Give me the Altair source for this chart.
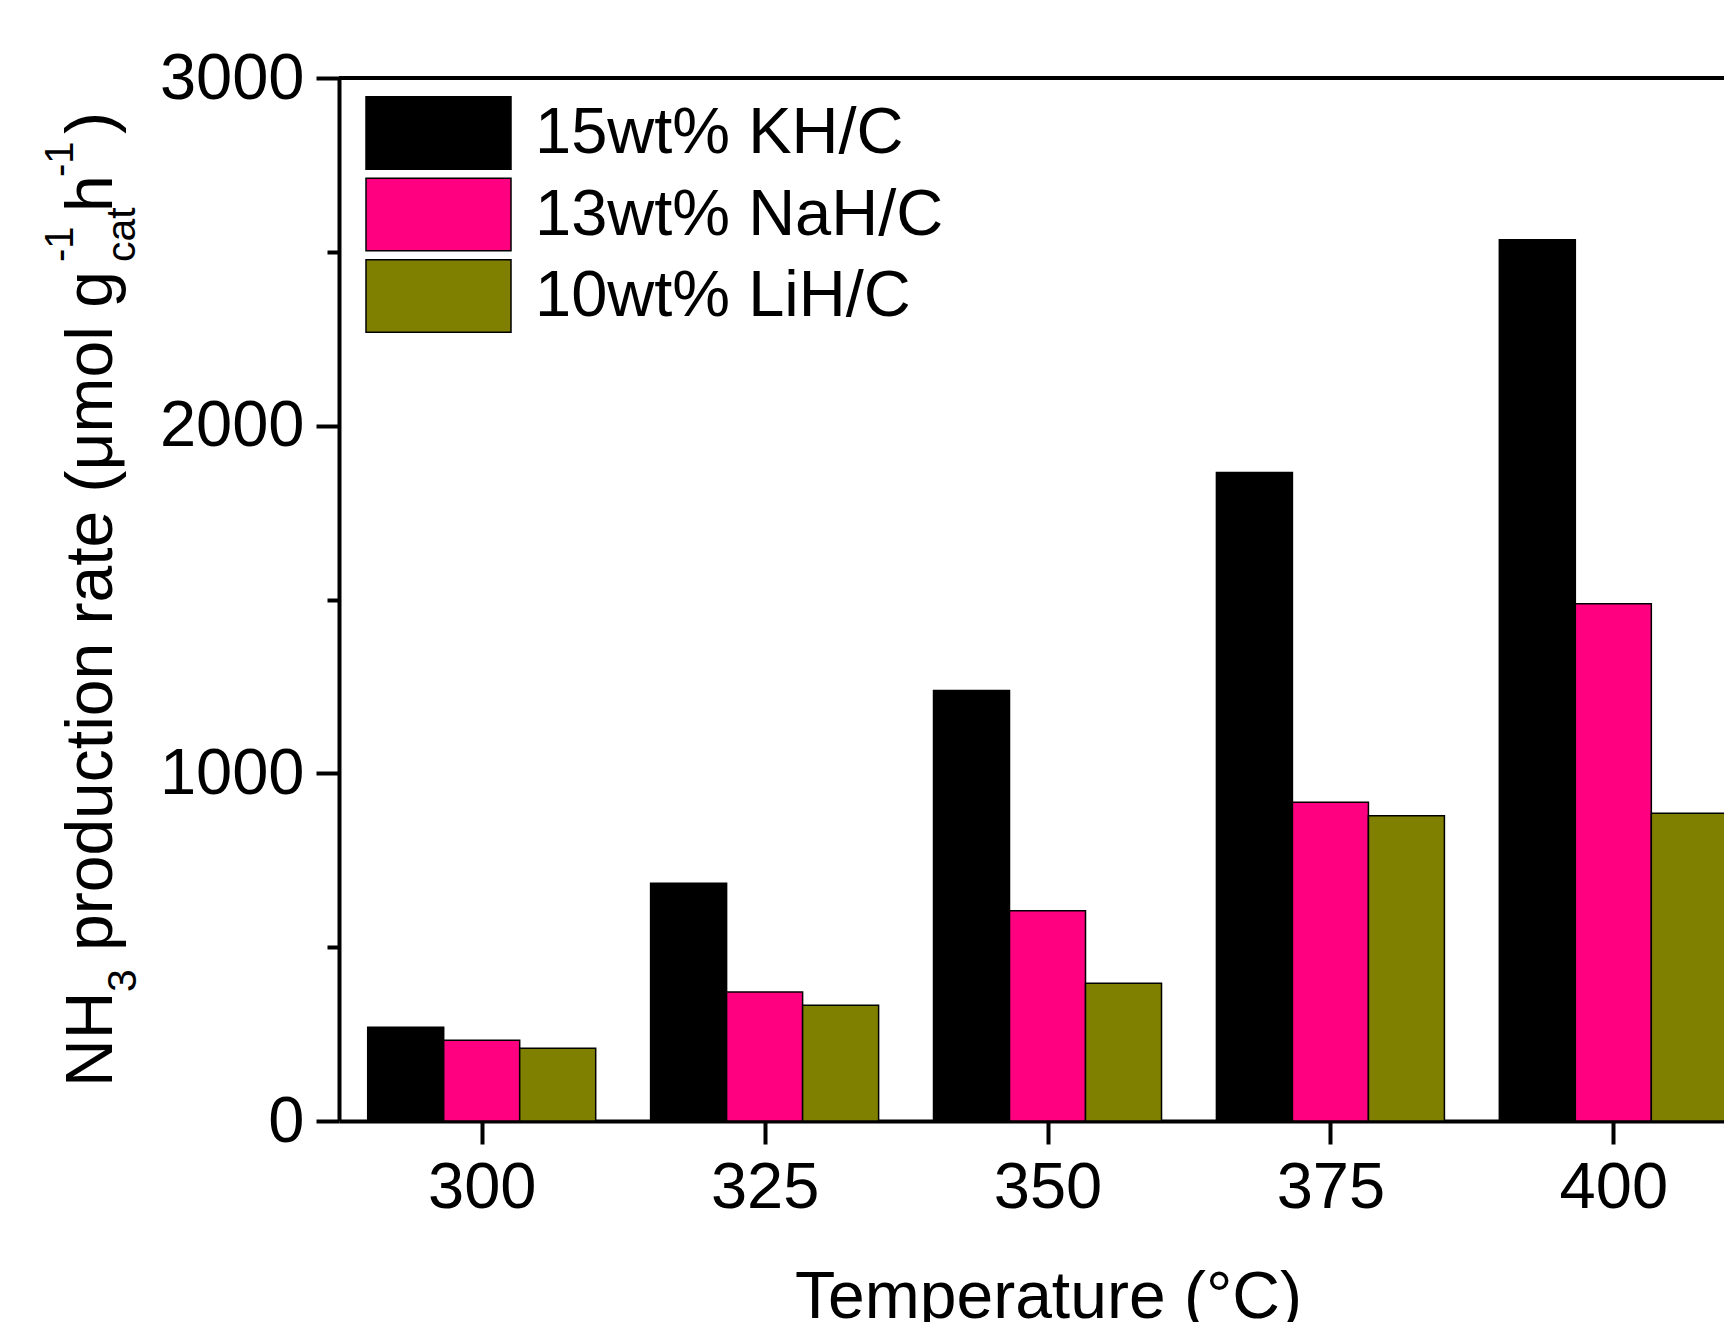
import altair as alt
import pandas as pd

# ---- data ----
temperatures = [300, 325, 350, 375, 400]
series_names = ["15wt% KH/C", "13wt% NaH/C", "10wt% LiH/C"]
kh_values = [270, 684, 1238, 1865, 2535]
nah_values = [232, 371, 605, 917, 1488]
lih_values = [209, 333, 396, 878, 885]
series_colors = ["#000000", "#FF0080", "#808000"]
y_ticks = [0, 500, 1000, 1500, 2000, 2500, 3000]

rows = []
for idx, (name, vals) in enumerate(zip(series_names, [kh_values, nah_values, lih_values])):
    for t, v in zip(temperatures, vals):
        rows.append({"temp": t, "series": name, "idx": idx, "value": v})
df = pd.DataFrame(rows)

BAR_W = 6.716  # bar width in temperature units
FONT = "Liberation Sans"

x_scale = alt.Scale(domain=[287.39, 409.78], nice=False, zero=False)
y_scale = alt.Scale(domain=[0, 3000], nice=False)

bars = (
    alt.Chart(df)
    .transform_calculate(
        xs=f"datum.temp + (datum.idx - 1.5) * {BAR_W}",
        xe=f"datum.temp + (datum.idx - 0.5) * {BAR_W}",
    )
    .mark_bar(stroke="black", strokeWidth=1.5, clip=True)
    .encode(
        x=alt.X(
            "xs:Q",
            scale=x_scale,
            axis=alt.Axis(
                values=temperatures,
                format="d",
                tickSize=23,
                labelPadding=12,
                title="Temperature (°C)",
                titleX=709,
                titleY=196,
                titleBaseline="alphabetic",
                titleAlign="center",
                titleFontSize=66,
                titleFontWeight="normal",
                titleFont=FONT,
                titleColor="black",
            ),
        ),
        x2="xe:Q",
        y=alt.Y(
            "value:Q",
            scale=y_scale,
            axis=alt.Axis(
                values=y_ticks,
                format="d",
                labelExpr="datum.value % 1000 === 0 ? datum.label : ''",
                tickSize={"condition": {"test": "datum.value % 1000 !== 0", "value": 12}, "value": 23},
                labelPadding=12,
                title=None,
            ),
        ),
        y2=alt.Y2(datum=0),
        fill=alt.Fill(
            "series:N",
            scale=alt.Scale(domain=series_names, range=series_colors),
            legend=alt.Legend(
                title=None,
                orient="none",
                legendX=62.5,
                legendY=18,
                symbolType="M-2,-1H2V1H-2Z",
                symbolSize=5256.25,
                symbolStrokeColor="black",
                symbolStrokeWidth=1.5,
                symbolOpacity=1,
                labelFont=FONT,
                labelFontSize=65,
                labelColor="black",
                labelOffset=59.5,
                labelLimit=1000,
                rowPadding=1.5,
                padding=0,
            ),
        ),
    )
)

top_line = alt.Chart(alt.Data(values=[{}])).mark_rule(color="black", strokeWidth=4).encode(
    y=alt.datum(3000)
)

def title_piece(text, x, y, size):
    return (
        alt.Chart(alt.Data(values=[{}]))
        .mark_text(
            text=text,
            angle=270,
            align="left",
            baseline="alphabetic",
            font=FONT,
            fontSize=size,
            color="black",
        )
        .encode(x=alt.value(x), y=alt.value(y))
    )

# positions below are relative to the plot origin (339, 78)
MAIN = 66
SUB = 41
SUP = 40
title_layers = [
    title_piece("NH", -227.3, 1009, MAIN),
    title_piece("3", -203, 914, SUB),
    title_piece("production rate (μmol g", -227.3, 873, MAIN),
    title_piece("-1", -266, 184, SUP),
    title_piece("cat", -204, 184, SUB),
    title_piece("h", -227.3, 134, MAIN),
    title_piece("-1", -266, 99, SUP),
    title_piece(")", -227.3, 56, MAIN),
]

chart = (
    alt.layer(bars, top_line, *title_layers)
    .properties(
        width=1385,
        height=1043,
        autosize=alt.AutoSizeParams(type="none"),
        padding={"left": 339, "top": 78, "right": 0, "bottom": 201},
        background="white",
    )
    .configure_view(stroke=None)
    .configure_axis(
        domainColor="black",
        domainWidth=4,
        tickColor="black",
        tickWidth=4,
        labelFont=FONT,
        labelFontSize=65,
        labelColor="black",
        grid=False,
    )
)

chart.save("out.html", embed_options={"renderer": "svg", "actions": False})
